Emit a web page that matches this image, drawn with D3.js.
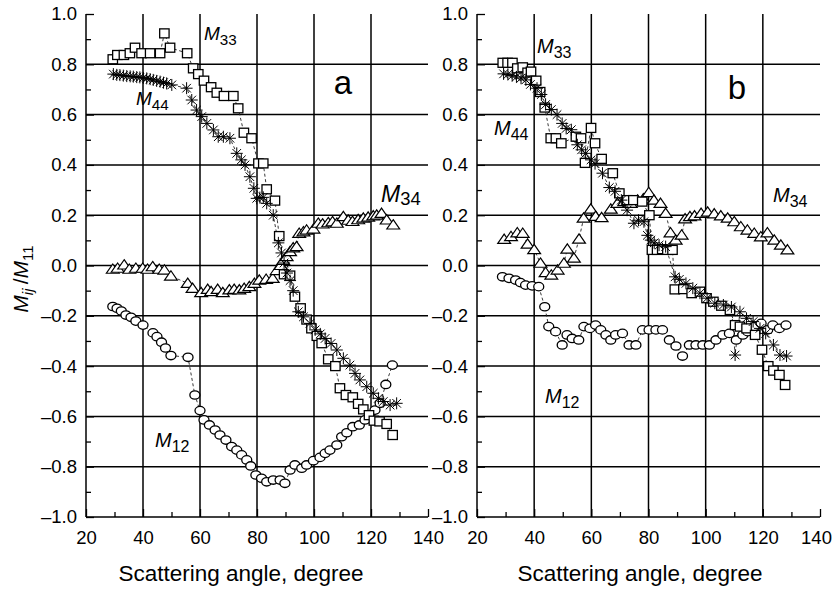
<!DOCTYPE html>
<html>
<head>
<meta charset="utf-8">
<script src="https://cdn.jsdelivr.net/npm/d3@7"></script>
<style>
  html, body { margin: 0; padding: 0; background: #fff; }
  svg { display: block; font-family: "Liberation Sans", Arial, Helvetica, sans-serif; }
</style>
</head>
<body>
<svg id="chart" width="834" height="590"></svg>
<script>
// Normalized Mueller matrix elements vs. scattering angle, two samples (a, b).
// Each series: [angle (degree), value].

const xTicks = [20, 40, 60, 80, 100, 120, 140];
const yTicks = [-1.0, -0.8, -0.6, -0.4, -0.2, 0.0, 0.2, 0.4, 0.6, 0.8, 1.0];
const xTitle = "Scattering angle, degree";
const panelNames = ["a", "b"];

// ---- sample a ----
const m33A = [[29.4,0.82],[31,0.837],[33.3,0.837],[35.4,0.844],[37.2,0.866],[39.5,0.844],[42.5,0.844],[46,0.844],[47.5,0.923],[49.5,0.866],[55.5,0.844],[57.6,0.784],[59.4,0.761],[61.4,0.735],[63.9,0.709],[65.9,0.687],[68.4,0.674],[71.7,0.674],[73.4,0.625],[75.4,0.528],[78.1,0.506],[80.5,0.406],[82.2,0.406],[83.4,0.303],[86.3,0.258],[87.8,0.117],[89.5,-0.035],[91.6,-0.04],[93.3,-0.124],[95.3,-0.17],[97.4,-0.215],[99.1,-0.25],[101,-0.28],[102.7,-0.309],[105,-0.373],[107.5,-0.40],[109.1,-0.488],[111.2,-0.515],[113.6,-0.524],[115.5,-0.55],[117.3,-0.572],[119.3,-0.595],[121,-0.617],[123,-0.62],[125.5,-0.63],[127.6,-0.674]];
const m44A = [[29.6,0.761],[30.8,0.758],[31.9,0.757],[33.1,0.755],[34.3,0.753],[35.5,0.752],[36.6,0.751],[37.8,0.749],[38.9,0.748],[40.1,0.746],[41.3,0.744],[42.5,0.741],[43.6,0.738],[44.8,0.734],[46,0.731],[47.2,0.727],[48.3,0.724],[50.1,0.718],[55.3,0.705],[57.1,0.658],[58.8,0.618],[60.6,0.592],[62.4,0.565],[64.7,0.539],[66.4,0.512],[68.2,0.512],[70.5,0.506],[72.9,0.446],[74.5,0.42],[75.8,0.40],[77.5,0.353],[78.9,0.307],[79.9,0.267],[81,0.27],[82.2,0.271],[83.4,0.247],[85.7,0.20],[87.5,0.09],[88.6,0.05],[89.5,0.01],[90.5,-0.03],[91.6,-0.06],[92.7,-0.10],[94.5,-0.184],[96.3,-0.204],[98.6,-0.23],[100.4,-0.256],[102.2,-0.272],[103.9,-0.29],[106,-0.31],[108,-0.336],[110.3,-0.369],[112.6,-0.396],[114.4,-0.429],[116.1,-0.455],[118.5,-0.482],[120.8,-0.508],[122.6,-0.528],[124.3,-0.541],[126.7,-0.555],[129,-0.548]];
const m34A = [[29.4,-0.015],[31.1,-0.011],[33.4,0.002],[35.2,-0.015],[37.5,-0.011],[39.9,-0.011],[41.6,-0.015],[43.4,-0.005],[45.7,-0.015],[47.5,-0.018],[49.8,-0.042],[55.7,-0.071],[57.4,-0.091],[60.4,-0.108],[62.7,-0.095],[63.9,-0.104],[66.2,-0.095],[68,-0.108],[70.3,-0.097],[72,-0.095],[73.8,-0.097],[75.5,-0.091],[77.3,-0.084],[79.1,-0.071],[80.8,-0.058],[83.2,-0.055],[85.5,-0.051],[86.9,-0.02],[88.3,0.0],[89.2,0.02],[90.4,0.035],[91.6,0.055],[92.7,0.07],[93.9,0.075],[94.8,0.128],[96.3,0.134],[97.4,0.141],[99.8,0.145],[101.5,0.168],[103,0.165],[105,0.17],[106.5,0.174],[108,0.168],[110.3,0.194],[112,0.18],[113.5,0.175],[115.5,0.182],[117.3,0.188],[119,0.192],[120.8,0.197],[122,0.20],[123.7,0.207],[125.5,0.181],[127.8,0.161]];
const m12A = [[29.4,-0.163],[30.9,-0.17],[32.4,-0.181],[34,-0.197],[35.8,-0.206],[37.5,-0.221],[40,-0.237],[43.5,-0.268],[44.9,-0.283],[46.5,-0.305],[47.9,-0.328],[49.8,-0.358],[55.8,-0.365],[58.2,-0.515],[60,-0.577],[61.4,-0.614],[63.3,-0.634],[65.3,-0.654],[67,-0.674],[69.1,-0.694],[71.1,-0.72],[72.9,-0.734],[74.6,-0.753],[76.4,-0.773],[77.8,-0.797],[79.6,-0.833],[81.6,-0.846],[83.4,-0.86],[85.7,-0.853],[88.1,-0.853],[89.8,-0.866],[91.6,-0.813],[93.3,-0.793],[95.7,-0.806],[97.4,-0.793],[99.8,-0.776],[102.1,-0.763],[103.9,-0.747],[105.6,-0.734],[108,-0.714],[109.7,-0.681],[111.5,-0.665],[113.6,-0.641],[115.9,-0.634],[117.9,-0.614],[119.6,-0.594],[121.4,-0.575],[123.2,-0.548],[125.2,-0.473],[127.5,-0.396]];

// ---- sample b ----
const m33B = [[29,0.806],[30.7,0.806],[32.4,0.806],[34.1,0.784],[36,0.788],[37.7,0.767],[38.9,0.771],[40.7,0.735],[42.1,0.69],[43.7,0.628],[45.8,0.506],[47.6,0.506],[49.5,0.486],[54.6,0.512],[56.4,0.506],[57.8,0.408],[59.9,0.547],[61.3,0.486],[63.6,0.424],[67.5,0.367],[69.8,0.287],[72.6,0.26],[74.7,0.26],[77.8,0.254],[80.3,0.2],[81.2,0.062],[83,0.062],[84.8,0.065],[86.6,0.062],[88.4,0.062],[89.2,-0.095],[92.2,-0.094],[95.1,-0.11],[98,-0.104],[100.3,-0.13],[102.7,-0.144],[105.5,-0.16],[108.5,-0.177],[110.3,-0.237],[112,-0.243],[114.3,-0.25],[117.3,-0.276],[119.7,-0.335],[121.9,-0.40],[123.7,-0.418],[125.8,-0.435],[127.8,-0.475]];
const m44B = [[29.3,0.762],[30.8,0.76],[32.3,0.755],[33.8,0.75],[35.4,0.745],[37.1,0.738],[38.7,0.72],[41,0.705],[42.5,0.68],[44,0.64],[46,0.62],[48,0.6],[49.8,0.565],[51.2,0.545],[53,0.54],[55.1,0.48],[56.6,0.46],[58,0.446],[59.9,0.42],[61.3,0.405],[63.9,0.367],[66.3,0.31],[68.3,0.295],[70.5,0.26],[72.5,0.22],[74.9,0.168],[76.5,0.18],[78.4,0.174],[79.6,0.12],[80.8,0.101],[82,0.09],[83.7,0.081],[86,0.075],[89.3,-0.045],[90.8,-0.055],[93.1,-0.071],[95.5,-0.09],[98,-0.11],[100.5,-0.13],[103.2,-0.15],[106.2,-0.157],[109,-0.165],[110.3,-0.356],[112,-0.184],[114.3,-0.21],[116.6,-0.223],[119,-0.25],[121,-0.27],[123.7,-0.316],[126,-0.356],[128.3,-0.36]];
const m34B = [[29.5,0.104],[31.9,0.115],[34.1,0.13],[36,0.128],[37.7,0.085],[40,0.063],[42.2,0.009],[44,-0.028],[46,-0.038],[48.2,-0.018],[50.4,0.009],[51.6,0.065],[53.9,0.029],[55.7,0.105],[57.3,0.188],[59.8,0.224],[61.5,0.195],[63.6,0.19],[66.8,0.224],[69.1,0.247],[71.5,0.254],[73.8,0.247],[76.2,0.26],[78.2,0.265],[80.1,0.29],[81.9,0.26],[84.2,0.247],[86,0.207],[87.7,0.13],[89.5,0.101],[91.6,0.121],[92.8,0.185],[94.5,0.194],[96.1,0.197],[98.4,0.207],[100.7,0.212],[103,0.205],[105.3,0.197],[107.7,0.188],[110,0.174],[112.3,0.154],[114.6,0.141],[117,0.128],[119.3,0.114],[121.6,0.13],[124,0.101],[126.3,0.081],[128.6,0.062]];
const m12B = [[28.9,-0.045],[31.2,-0.051],[33.5,-0.058],[35.2,-0.068],[37,-0.078],[39.3,-0.081],[41.6,-0.084],[43.7,-0.164],[45.1,-0.243],[47.5,-0.263],[49.8,-0.316],[51.5,-0.276],[53.3,-0.29],[55.6,-0.296],[57.4,-0.243],[59.5,-0.25],[61.5,-0.237],[63.3,-0.256],[65.1,-0.276],[66.8,-0.296],[68.5,-0.276],[70.9,-0.27],[73.2,-0.316],[75.6,-0.316],[77.9,-0.256],[80.2,-0.256],[82.6,-0.256],[84.9,-0.256],[87.3,-0.296],[89.6,-0.32],[91.9,-0.36],[94.3,-0.316],[96.6,-0.316],[99,-0.316],[101.3,-0.316],[103.6,-0.296],[106,-0.276],[108.3,-0.27],[110.7,-0.296],[113,-0.276],[114.7,-0.263],[117,-0.243],[119.4,-0.23],[121.7,-0.256],[123.5,-0.237],[125.8,-0.25],[128.1,-0.237]];

// ---------------------------------------------------------------------------
const svg = d3.select("#chart");
const INK = "#000";

// Panel frames (pixel layout)
const panels = [
  { name: panelNames[0], left: 86, right: 428, lastTickShift: 0,
    series: { m12: m12A, m34: m34A, m33: m33A, m44: m44A },
    tag: [343, 94], titleX: 241,
    labels: [
      { sub: "33", x: 204, y: 40, size: 19 },
      { sub: "44", x: 136, y: 105, size: 19 },
      { sub: "34", x: 381, y: 202, size: 23, subDy: 3 },
      { sub: "12", x: 155, y: 447, size: 20 }
    ] },
  { name: panelNames[1], left: 477, right: 820, lastTickShift: -4,
    series: { m12: m12B, m34: m34B, m33: m33B, m44: m44B },
    tag: [737, 99], titleX: 640,
    labels: [
      { sub: "33", x: 537, y: 53, size: 20 },
      { sub: "44", x: 494, y: 135, size: 20 },
      { sub: "34", x: 773, y: 202, size: 20 },
      { sub: "12", x: 545, y: 403, size: 20 }
    ] }
];
const TOP = 14, BOTTOM = 517;

// Marker shapes
const markers = {
  m33: g => g.append("rect").attr("x", -4.7).attr("y", -4.5).attr("width", 9.4).attr("height", 9)
             .attr("fill", "#fff").attr("stroke", INK).attr("stroke-width", 1.3),
  m12: g => g.append("ellipse").attr("rx", 5).attr("ry", 4.2)
             .attr("fill", "#fff").attr("stroke", INK).attr("stroke-width", 1.3),
  m34: g => g.append("path").attr("d", "M0,-5.3L6.4,4L-6.4,4Z")
             .attr("fill", "#fff").attr("stroke", INK).attr("stroke-width", 1.2).attr("stroke-linejoin", "miter"),
  m44: g => g.append("path")
             .attr("d", "M-6,0H6M0,-6V6M-4.3,-4.3L4.3,4.3M-4.3,4.3L4.3,-4.3")
             .attr("fill", "none").attr("stroke", INK).attr("stroke-width", 1)
};
const order = ["m12", "m34", "m33", "m44"];

panels.forEach(p => {
  const x = d3.scaleLinear().domain([20, 140]).range([p.left, p.right]);
  const y = d3.scaleLinear().domain([-1, 1]).range([BOTTOM, TOP]);
  const g = svg.append("g");

  // grid
  const grid = g.append("g").attr("stroke", INK).attr("stroke-width", 1.5);
  xTicks.filter(t => t > 20 && t < 140).forEach(t => {
    grid.append("line").attr("x1", x(t)).attr("x2", x(t)).attr("y1", y(1)).attr("y2", y(-1));
  });
  yTicks.filter(t => t > -1 && t < 1).forEach(t => {
    grid.append("line").attr("x1", x(20)).attr("x2", x(140)).attr("y1", y(t)).attr("y2", y(t));
  });

  // axes (ticks point inward)
  const xAxis = d3.axisBottom(x).tickValues(d3.range(20, 141, 10))
    .tickSize(-8).tickFormat(d => xTicks.includes(d) ? d : "").tickPadding(14);
  const gx = g.append("g").attr("transform", `translate(0,${BOTTOM})`).call(xAxis);
  gx.selectAll(".tick line").attr("y2", d => xTicks.includes(d) ? -8 : -5);
  gx.selectAll(".tick text").filter(d => d === 140).attr("dx", p.lastTickShift);
  const yAxis = d3.axisLeft(y).tickValues(d3.range(-10, 11, 1).map(v => v / 10))
    .tickSize(-8).tickPadding(9)
    .tickFormat(d => {
      const r = Math.round(d * 10) / 10;
      if (!yTicks.some(t => Math.abs(t - r) < 1e-9)) return "";
      return (r < 0 ? "\u2013" : "") + Math.abs(r).toFixed(1);
    });
  const gy = g.append("g").attr("transform", `translate(${p.left},0)`).call(yAxis);
  gy.selectAll(".tick line").attr("x2", (d, i) => (i % 2 === 0) ? 8 : 5);
  [gx, gy].forEach(ax => {
    ax.select(".domain").attr("stroke", INK).attr("stroke-width", 1.5);
    ax.selectAll(".tick line").attr("stroke", INK).attr("stroke-width", 1.3);
    ax.selectAll("text").attr("fill", INK).attr("font-size", 18.5)
      .attr("font-family", "'Liberation Sans', Arial, sans-serif");
  });
  gx.select(".domain").attr("d", `M${p.left},0H${p.right}`);
  gy.select(".domain").attr("d", `M0,${BOTTOM}V${TOP}`);
  gx.selectAll("text").attr("dy", "0.71em");

  // dashed connecting lines
  const line = d3.line().x(d => x(d[0])).y(d => y(d[1]));
  order.forEach(k => {
    g.append("path").datum(p.series[k]).attr("d", line)
      .attr("fill", "none").attr("stroke", "#222").attr("stroke-width", 0.9)
      .attr("stroke-dasharray", "3,2.5");
  });

  // markers
  order.forEach(k => {
    g.append("g").selectAll("g").data(p.series[k]).join("g")
      .attr("transform", d => `translate(${x(d[0])},${y(d[1])})`)
      .each(function () { markers[k](d3.select(this)); });
  });

  // series labels M_ij
  p.labels.forEach(l => {
    const t = g.append("text").attr("x", l.x).attr("y", l.y).attr("fill", INK)
      .attr("font-size", l.size);
    t.append("tspan").attr("font-style", "italic").text("M");
    t.append("tspan").attr("font-size", l.size * 0.8).attr("dy", l.subDy != null ? l.subDy : 5).text(l.sub);
  });

  // panel tag
  g.append("text").attr("x", p.tag[0]).attr("y", p.tag[1]).attr("text-anchor", "middle")
    .attr("font-size", 33).attr("fill", INK).text(p.name);

  // x title
  g.append("text").attr("x", p.titleX).attr("y", 581).attr("text-anchor", "middle")
    .attr("font-size", 22.5).attr("fill", INK).text(xTitle);
});

// y title: M_ij / M_11
const yt = svg.append("text").attr("transform", "translate(28,279) rotate(-90)")
  .attr("text-anchor", "middle").attr("font-size", 21).attr("fill", INK);
yt.append("tspan").attr("font-style", "italic").text("M");
yt.append("tspan").attr("font-style", "italic").attr("font-size", 15).attr("dy", 5).text("ij");
yt.append("tspan").attr("dy", -5).text("\u2009/");
yt.append("tspan").attr("font-style", "italic").text("M");
yt.append("tspan").attr("font-size", 15).attr("dy", 5).text("11");
</script>
</body>
</html>
